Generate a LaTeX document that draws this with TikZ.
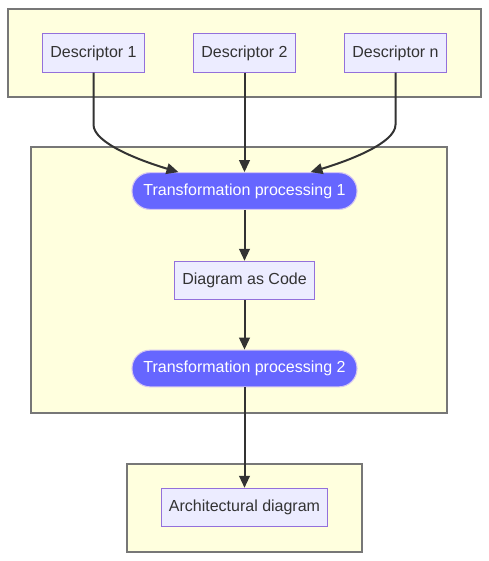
\documentclass[tikz,border=0pt]{standalone}
\usepackage{fontspec}
\setmainfont{Liberation Sans}
\usetikzlibrary{arrows.meta,positioning,calc}
\definecolor{clfill}{HTML}{FFFFDE}
\definecolor{clline}{HTML}{777777}
\definecolor{boxfill}{HTML}{ECECFF}
\definecolor{boxline}{HTML}{9370DB}
\definecolor{procfill}{HTML}{6666FF}
\definecolor{ink}{HTML}{333333}

\begin{document}
\begin{tikzpicture}[x=0.75pt,y=-0.75pt,>={Triangle[length=9pt,width=8pt]},
  cluster/.style={draw=clline,fill=clfill,line width=0.8pt},
  desc/.style={draw=boxline,fill=boxfill,line width=0.8pt,text=ink,font=\fontsize{12}{14}\selectfont,
    inner xsep=5.6pt,minimum height=28.8pt},
  proc/.style={draw=boxline!40,fill=procfill,text=white,line width=0.8pt,font=\fontsize{12}{14}\selectfont,
    rounded corners=13.5pt,minimum width=168.75pt,minimum height=27.5pt},
  arr/.style={->,draw=ink,line width=1.5pt}]
\useasboundingbox (0,0) rectangle (489,561);
% clusters
\draw[cluster] (8,9) rectangle (481,97);
\draw[cluster] (31,147) rectangle (447,413);
\draw[cluster] (127,464) rectangle (362,552);
% descriptors
\node[desc] (d1) at (93.5,53) {Descriptor 1};
\node[desc] (d2) at (244.5,53) {Descriptor 2};
\node[desc] (dn) at (395.5,53) {Descriptor n};
% processing chain
\node[proc] (tp1) at (244.5,191) {Transformation processing 1};
\node[desc] (dac) at (244.5,280.5) {Diagram as Code};
\node[proc] (tp2) at (244.5,368.5) {Transformation processing 2};
\node[desc] (arch) at (244.5,507.5) {Architectural diagram};
% connectors
\draw[arr] (d1.south) -- ++(0,52) .. controls +(0,18) and +(-40,-12) .. ($(tp1.north)+(-66,0)$);
\draw[arr] (dn.south) -- ++(0,52) .. controls +(0,18) and +(40,-12) .. ($(tp1.north)+(66,0)$);
\draw[arr] (d2) -- (tp1);
\draw[arr] (tp1) -- (dac);
\draw[arr] (dac) -- (tp2);
\draw[arr] (tp2) -- (arch);
\end{tikzpicture}
\end{document}
